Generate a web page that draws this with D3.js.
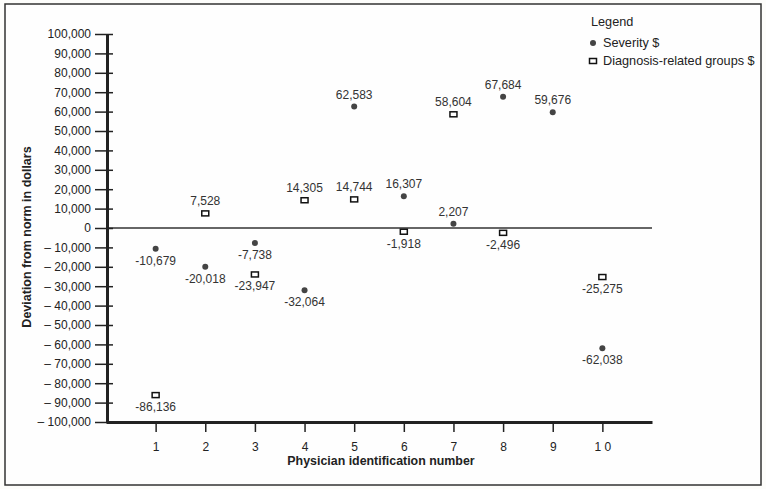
<!DOCTYPE html>
<html><head><meta charset="utf-8">
<script src="https://cdn.jsdelivr.net/npm/d3@7"></script>
<style>
html,body{margin:0;padding:0;background:#fdfdfb;}
svg{display:block;font-family:"Liberation Sans",Arial,Helvetica,sans-serif;}
</style></head><body>
<svg id="c" width="766" height="489"></svg>
<script>
const physicians = [1,2,3,4,5,6,7,8,9,10];
const severity = [-10679,-20018,-7738,-32064,62583,16307,2207,67684,59676,-62038];
const drg = [-86136,7528,-23947,14305,14744,-1918,58604,-2496,null,-25275];
const yTickValues = d3.range(-100000,100001,10000);
const xTickLabels = ["1","2","3","4","5","6","7","8","9","1 0"];

const svg = d3.select("#c");
const ink = "#222";

svg.append("rect").attr("x",5).attr("y",4).attr("width",756).attr("height",481)
  .attr("fill","#fefefe").attr("stroke","#333").attr("stroke-width",1.5);

const x = d3.scaleLinear().domain([0,11]).range([106,652]);
const y = d3.scaleLinear().domain([-100000,100000]).range([422,34]);

const fmt = d3.format(",");
const yFmt = v => v < 0 ? "\u2013 " + fmt(-v) : fmt(v);
const lblFmt = v => v < 0 ? "-" + fmt(-v) : fmt(v);

// zero line
svg.append("line").attr("x1",x(0)).attr("x2",x(11)).attr("y1",y(0)).attr("y2",y(0))
  .attr("stroke","#333").attr("stroke-width",1.5);

// y axis
const gy = svg.append("g").attr("transform",`translate(${x(0)+1},0)`)
  .call(d3.axisLeft(y).tickValues(yTickValues).tickFormat(yFmt).tickSizeInner(12).tickSizeOuter(0).tickPadding(4));
gy.select(".domain").attr("stroke","#222").attr("stroke-width",3);
gy.selectAll(".tick line").attr("x1",6).attr("stroke","#222").attr("stroke-width",1.5);
gy.selectAll(".tick text").attr("fill",ink).style("font-size","12px");

// x axis
const gx = svg.append("g").attr("transform",`translate(0,${y(-100000)})`)
  .call(d3.axisBottom(x).tickValues(physicians).tickFormat((d,i)=>xTickLabels[i]).tickSizeInner(10).tickSizeOuter(0).tickPadding(10));
gx.select(".domain").attr("stroke","#222").attr("stroke-width",3);
gx.selectAll(".tick line").attr("stroke","#222").attr("stroke-width",1.5);
gx.selectAll(".tick text").attr("fill",ink).style("font-size","12px");

// titles
svg.append("text").attr("x",381).attr("y",465).attr("text-anchor","middle")
  .attr("font-weight","bold").attr("font-size",12.4).attr("fill",ink).text("Physician identification number");
svg.append("text").attr("transform","translate(31,237) rotate(-90)").attr("text-anchor","middle")
  .attr("font-weight","bold").attr("font-size",12.5).attr("fill",ink).text("Deviation from norm in dollars");

// severity points
const sev = physicians.map((p,i)=>({p,v:severity[i]})).filter(d=>d.v!=null);
svg.append("g").selectAll("circle").data(sev).join("circle")
  .attr("cx",d=>x(d.p)).attr("cy",d=>y(d.v)).attr("r",3).attr("fill","#444");
// drg points
const dr = physicians.map((p,i)=>({p,v:drg[i]})).filter(d=>d.v!=null);
svg.append("g").selectAll("rect").data(dr).join("rect")
  .attr("x",d=>x(d.p)-3.5).attr("y",d=>y(d.v)-2.5).attr("width",7).attr("height",5)
  .attr("fill","#fff").attr("stroke","#111").attr("stroke-width",1.5);

// labels
const labels = sev.concat(dr);
svg.append("g").selectAll("text").data(labels).join("text")
  .attr("x",d=>x(d.p)).attr("y",d=>d.v>=0 ? y(d.v)-8 : y(d.v)+16)
  .attr("text-anchor","middle").attr("font-size",12).attr("fill","#333").text(d=>lblFmt(d.v));

// legend
svg.append("text").attr("x",591).attr("y",26).attr("font-size",12.7).attr("fill",ink).text("Legend");
svg.append("circle").attr("cx",593).attr("cy",43).attr("r",3).attr("fill","#444");
svg.append("text").attr("x",603).attr("y",47).attr("font-size",12.7).attr("fill",ink).text("Severity $");
svg.append("rect").attr("x",589.5).attr("y",58.5).attr("width",7).attr("height",5)
  .attr("fill","#fff").attr("stroke","#111").attr("stroke-width",1.5);
svg.append("text").attr("x",603).attr("y",65).attr("font-size",12.7).attr("fill",ink).text("Diagnosis-related groups $");
</script></body></html>
